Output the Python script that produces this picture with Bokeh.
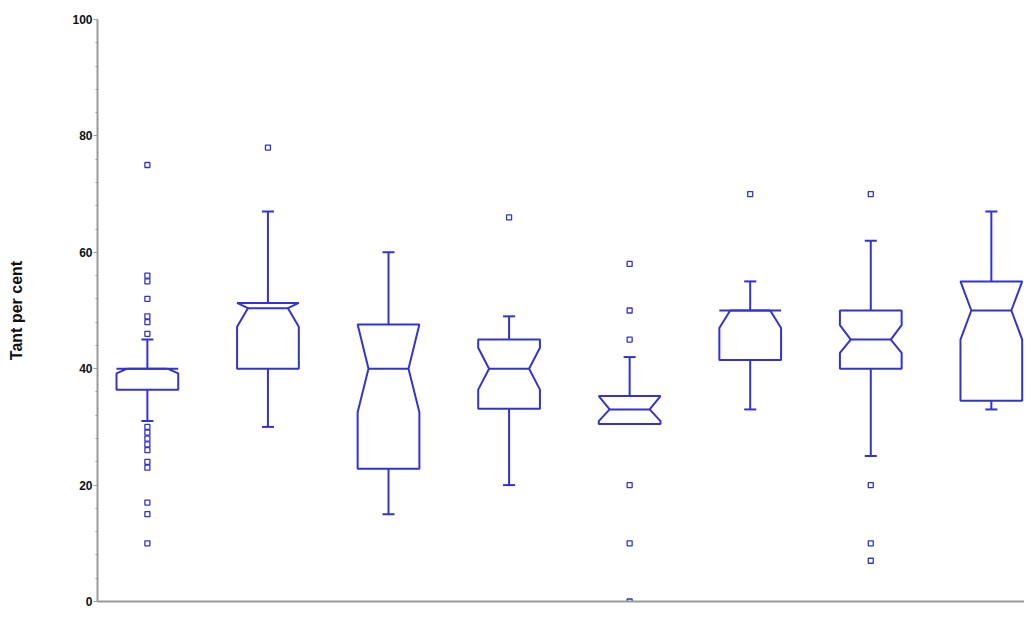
from bokeh.plotting import figure
from bokeh.models import Range1d, SingleIntervalTicker, FixedTicker
from bokeh.embed import file_html
from bokeh.resources import INLINE

# ---- data ----
groups = [1, 2, 3, 4, 5, 6, 7, 8]
q1 = [36.4, 40.0, 22.8, 33.1, 30.5, 41.5, 40.0, 34.5]
median = [40.0, 50.4, 40.0, 40.0, 33.0, 50.0, 45.0, 50.0]
q3 = [40.0, 51.3, 47.6, 45.0, 35.3, 50.0, 50.0, 55.0]
notch_lo = [39.2, 47.2, 32.5, 36.4, 31.0, 47.0, 42.7, 45.0]
notch_hi = [40.0, 51.3, 47.6, 43.6, 35.3, 50.0, 47.5, 55.0]
whisker_lo = [31, 30, 15, 20, 30.5, 33, 25, 33]
whisker_hi = [45, 67, 60, 49, 42, 55, 62, 67]
outliers = [
    [75, 56, 55, 52, 49, 48, 46, 30, 29, 28, 27, 26, 24, 23, 17, 15, 10],
    [78],
    [],
    [66],
    [58, 50, 45, 20, 10, 0],
    [70],
    [70, 20, 10, 7],
    [],
]
y_label = "Tant per cent"
y_ticks_interval = 20

# ---- style ----
BLUE = "#3333d4"
GREY = "#9a9a9a"
FONT = "'Liberation Sans', Arial, sans-serif"
hw = 0.256      # half box width
ind = 0.09      # notch indent
cap = 0.05      # half cap width

p = figure(width=1024, height=609, output_backend="svg", toolbar_location=None,
           x_range=Range1d(0.5863, 8.275), y_range=Range1d(0, 100),
           min_border_left=97, min_border_right=0, min_border_top=19,
           min_border_bottom=8)
p.outline_line_color = None
p.xgrid.visible = False
p.ygrid.visible = False
p.background_fill_color = "white"
p.border_fill_color = "white"

# box outlines (notched)
xs, ys = [], []
for g, a, m, b, nl, nh in zip(groups, q1, median, q3, notch_lo, notch_hi):
    L, R = g - hw, g + hw
    xs.append([L, L, L + ind, L, L, R, R, R - ind, R, R])
    ys.append([a, nl, m, nh, b, b, nh, m, nl, a])
p.patches(xs, ys, fill_color="white", line_color=BLUE, line_width=2)

# median lines
p.segment(x0=[g - hw + ind for g in groups], x1=[g + hw - ind for g in groups],
          y0=median, y1=median, line_color=BLUE, line_width=2)

# whiskers
p.segment(x0=groups, x1=groups, y0=q3, y1=whisker_hi, line_color=BLUE, line_width=2)
p.segment(x0=groups, x1=groups, y0=q1, y1=whisker_lo, line_color=BLUE, line_width=2)
p.segment(x0=[g - cap for g in groups], x1=[g + cap for g in groups],
          y0=whisker_hi, y1=whisker_hi, line_color=BLUE, line_width=2)
p.segment(x0=[g - cap for g in groups], x1=[g + cap for g in groups],
          y0=whisker_lo, y1=whisker_lo, line_color=BLUE, line_width=2)

# outliers
ox, oy = [], []
for g, vals in zip(groups, outliers):
    for v in vals:
        ox.append(g)
        oy.append(v)
p.scatter(ox, oy, marker="square", size=5, fill_color="white",
          line_color=BLUE, line_width=1.3)

# axes
yax = p.yaxis[0]
yax.ticker = SingleIntervalTicker(interval=y_ticks_interval, num_minor_ticks=5)
yax.axis_label = y_label
yax.axis_label_text_font = FONT
yax.axis_label_text_font_style = "bold"
yax.axis_label_text_font_size = "16px"
yax.axis_label_text_color = "#111111"
yax.axis_label_standoff = 44
yax.major_label_text_font = FONT
yax.major_label_text_font_style = "bold"
yax.major_label_text_font_size = "12px"
yax.major_label_text_color = "#111111"
yax.major_label_standoff = 1
yax.axis_line_color = GREY
yax.axis_line_width = 2
yax.major_tick_line_color = GREY
yax.minor_tick_line_color = GREY
yax.major_tick_out = 4
yax.major_tick_in = 0
yax.minor_tick_out = 2
yax.minor_tick_in = 0

xax = p.xaxis[0]
xax.ticker = FixedTicker(ticks=[])
xax.axis_line_color = GREY
xax.axis_line_width = 2
xax.major_tick_line_color = None
xax.minor_tick_line_color = None
xax.major_label_text_font_size = "0px"
xax.major_label_standoff = 0
xax.major_tick_out = 0
xax.major_tick_in = 0

open("out.html", "w").write(file_html(p, INLINE))
